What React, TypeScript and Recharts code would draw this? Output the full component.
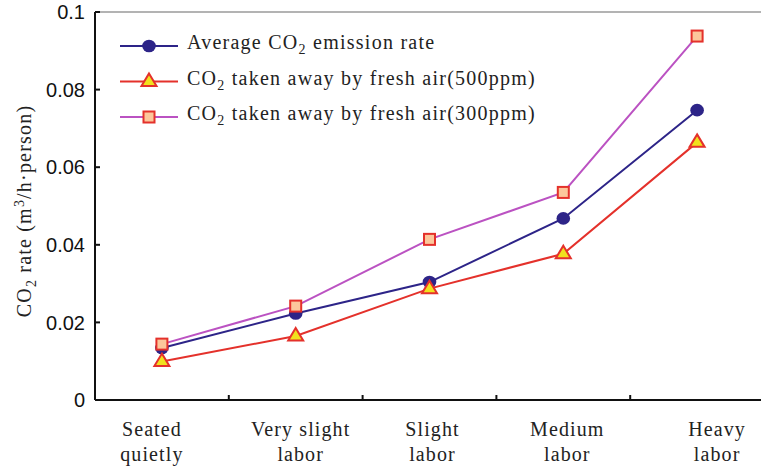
import { LineChart, Line, XAxis, YAxis, ReferenceLine, Legend } from 'recharts';

const categories = [
  ['Seated', 'quietly'],
  ['Very slight', 'labor'],
  ['Slight', 'labor'],
  ['Medium', 'labor'],
  ['Heavy', 'labor'],
];
const averageRate = [0.0134, 0.0223, 0.0304, 0.0468, 0.0747];
const fresh500 = [0.0099, 0.0165, 0.0287, 0.0377, 0.0664];
const fresh300 = [0.0144, 0.0242, 0.0414, 0.0535, 0.0938];
const yTicks = [0, 0.02, 0.04, 0.06, 0.08, 0.1];
const xTicks = [0, 0.5, 1, 1.5, 2, 2.5, 3, 3.5, 4];

const data = categories.map((c, i) => ({
  x: i,
  avg: averageRate[i],
  p500: fresh500[i],
  p300: fresh300[i],
}));

const BLUE = '#2d2488';
const RED = '#e4312b';
const PURPLE = '#bb52c2';
const YELLOW = '#f1e11e';
const PEACH = '#fcc79b';
const SERIF = '"Liberation Serif", "Times New Roman", serif';
const SANS = '"Liberation Sans", Arial, sans-serif';

// labels in the original are not exactly centred under the points
const labelShift = [-10, 5, 3, 4, 20];

function Circle({ cx, cy }: any) {
  return <ellipse cx={cx} cy={cy} rx={6.8} ry={6.3} fill={BLUE} />;
}
function Triangle({ cx, cy }: any) {
  return (
    <path
      d={`M${cx},${cy - 8} L${cx + 7.5},${cy + 4.5} L${cx - 7.5},${cy + 4.5} Z`}
      fill={YELLOW}
      stroke={RED}
      strokeWidth={2}
      strokeLinejoin="miter"
    />
  );
}
function Square({ cx, cy }: any) {
  return <rect x={cx - 5.5} y={cy - 5.5} width={11} height={11} fill={PEACH} stroke={RED} strokeWidth={2} />;
}

function XTick({ x, y, payload }: any) {
  const v = payload.value;
  if (!Number.isInteger(v)) {
    return <line x1={x} x2={x} y1={y} y2={y - 5} stroke="#111" strokeWidth={2} />;
  }
  const [a, b] = categories[v];
  const tx = x + labelShift[v];
  return (
    <text textAnchor="middle" fontFamily={SERIF} fontSize={20} letterSpacing={1.1} fill="#222">
      <tspan x={tx} y={y + 36}>{a}</tspan>
      <tspan x={tx} y={y + 61}>{b}</tspan>
    </text>
  );
}

function YTick({ x, y, payload }: any) {
  const v = payload.value;
  const label = v === 0 ? '0' : v === 0.1 ? '0.1' : v.toFixed(2);
  return (
    <g>
      <line x1={x} x2={x + 5} y1={y} y2={y} stroke="#111" strokeWidth={2} />
      <text x={x - 10} y={y} dy="0.36em" textAnchor="end" fontFamily={SANS} fontSize={20} fill="#111">
        {label}
      </text>
    </g>
  );
}

function YLabel({ viewBox }: any) {
  const cx = viewBox.x + 31;
  const cy = viewBox.y + viewBox.height / 2 + 5;
  return (
    <text
      x={cx}
      y={cy}
      transform={`rotate(-90 ${cx} ${cy})`}
      textAnchor="middle"
      fontFamily={SERIF}
      fontSize={20}
      letterSpacing={1.2}
      fill="#222"
    >
      CO<tspan dy={5} fontSize={14}>2</tspan>
      <tspan dy={-5}> rate (m</tspan>
      <tspan dy={-7} fontSize={14}>3</tspan>
      <tspan dy={7}>/h·person)</tspan>
    </text>
  );
}

const legendRows = [
  { color: BLUE, marker: Circle, text: ['Average CO', '2', ' emission rate'] },
  { color: RED, marker: Triangle, text: ['CO', '2', ' taken away by fresh air(500ppm)'] },
  { color: PURPLE, marker: Square, text: ['CO', '2', ' taken away by fresh air(300ppm)'] },
];

function LegendBox() {
  return (
    <svg width={440} height={110} style={{ display: 'block' }}>
      {legendRows.map((r, i) => {
        const cy = 18 + i * 35.5;
        const M = r.marker;
        return (
          <g key={i}>
            <line x1={0} x2={58} y1={cy} y2={cy} stroke={r.color} strokeWidth={2} />
            <M cx={29} cy={cy} />
            <text x={67} y={cy + 3} fontFamily={SERIF} fontSize={20} letterSpacing={1.25} fill="#222">
              {r.text[0]}
              <tspan dy={5} fontSize={14}>{r.text[1]}</tspan>
              <tspan dy={-5}>{r.text[2]}</tspan>
            </text>
          </g>
        );
      })}
    </svg>
  );
}

export default function App() {
  return (
    <div style={{ position: 'absolute', left: 0, top: 0, width: 761, height: 468, overflow: 'hidden', background: '#fff' }}>
      <LineChart width={770} height={468} data={data} margin={{ top: 12, right: 6, left: 0, bottom: 0 }}>
        <XAxis
          dataKey="x"
          type="number"
          domain={[-0.5, 4.5]}
          ticks={xTicks}
          interval={0}
          height={68}
          tickSize={0}
          tickMargin={0}
          tickLine={false}
          tick={<XTick />}
          axisLine={{ stroke: '#111', strokeWidth: 2 }}
        />
        <YAxis
          type="number"
          domain={[0, 0.1]}
          ticks={yTicks}
          interval={0}
          width={95}
          tickSize={0}
          tickMargin={0}
          tickLine={false}
          tick={<YTick />}
          axisLine={{ stroke: '#111', strokeWidth: 2 }}
          label={<YLabel />}
        />
        <ReferenceLine y={0.1} stroke="#9a9a9a" strokeWidth={1.5} />
        <Legend
          layout="horizontal"
          verticalAlign="middle"
          align="center"
          wrapperStyle={{ left: 120, top: 28, width: 440 }}
          content={() => <LegendBox />}
        />
        <Line
          type="linear"
          dataKey="avg"
          stroke={BLUE}
          strokeWidth={2}
          dot={(p: any) => <Circle key={`c${p.index}`} cx={p.cx} cy={p.cy} />}
          isAnimationActive={false}
        />
        <Line
          type="linear"
          dataKey="p500"
          stroke={RED}
          strokeWidth={2}
          dot={(p: any) => <Triangle key={`t${p.index}`} cx={p.cx} cy={p.cy} />}
          isAnimationActive={false}
        />
        <Line
          type="linear"
          dataKey="p300"
          stroke={PURPLE}
          strokeWidth={2}
          dot={(p: any) => <Square key={`s${p.index}`} cx={p.cx} cy={p.cy} />}
          isAnimationActive={false}
        />
      </LineChart>
    </div>
  );
}
